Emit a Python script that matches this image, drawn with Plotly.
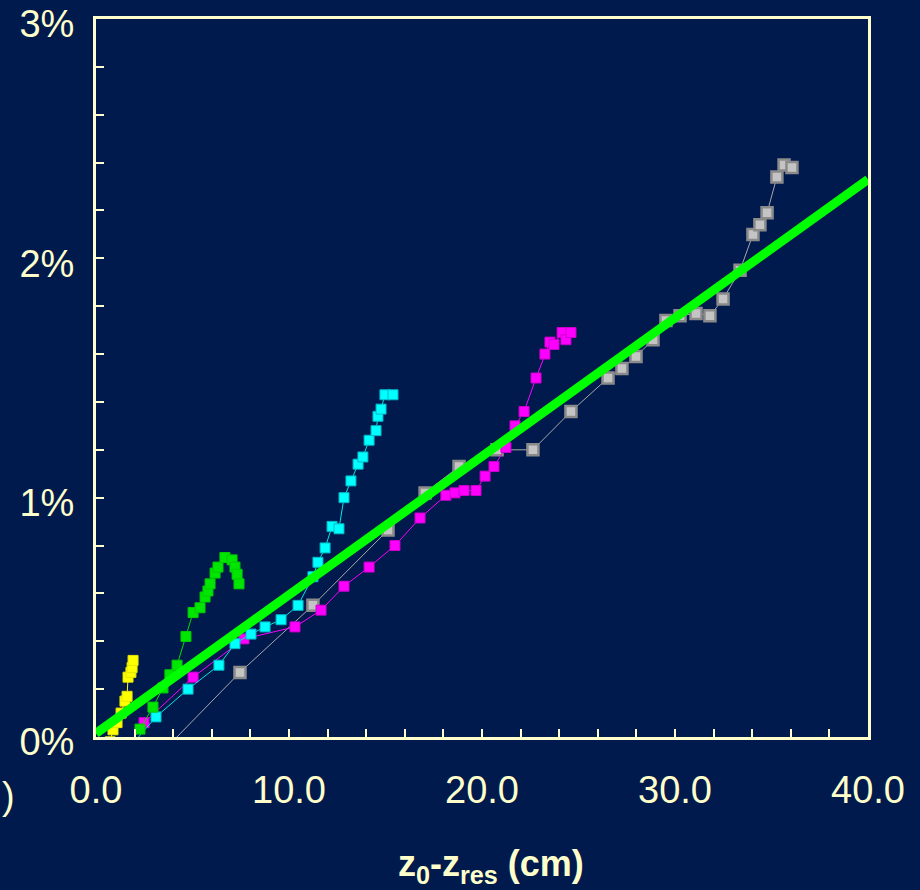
import plotly.graph_objects as go

# ---- data (x in cm, y in %) ----
yellow_x = [0.73, 0.88, 1.09, 1.30, 1.50, 1.61, 1.66, 1.81, 1.87, 1.92]
yellow_y = [-0.02, 0.03, 0.06, 0.10, 0.15, 0.17, 0.25, 0.27, 0.29, 0.32]

green_x = [2.28, 2.95, 3.47, 3.83, 4.20, 4.66, 5.03, 5.39, 5.65, 5.80, 5.91, 6.17, 6.32, 6.68, 7.05, 7.20, 7.31, 7.41]
green_y = [0.033, 0.125, 0.205, 0.26, 0.30, 0.42, 0.52, 0.54, 0.585, 0.61, 0.64, 0.685, 0.71, 0.75, 0.74, 0.71, 0.68, 0.64]

cyan_x = [1.66, 3.11, 4.77, 6.37, 7.20, 8.03, 8.76, 9.59, 10.47, 11.24, 11.50, 11.87, 12.23, 12.59, 12.85,
          13.21, 13.58, 13.83, 14.15, 14.51, 14.61, 14.77, 14.97, 15.39]
cyan_y = [-0.05, 0.084, 0.20, 0.30, 0.39, 0.43, 0.46, 0.49, 0.55, 0.67, 0.73, 0.79, 0.88, 0.87, 1.00,
          1.07, 1.14, 1.17, 1.24, 1.28, 1.34, 1.37, 1.43, 1.43]

magenta_x = [1.66, 2.49, 5.03, 7.67, 10.31, 11.66, 12.85, 14.15, 15.49, 16.79, 18.13, 18.60, 19.07, 19.69,
             20.16, 20.62, 21.24, 21.71, 22.18, 22.80, 23.26, 23.52, 23.73, 24.15, 24.35, 24.61]
magenta_y = [-0.04, 0.06, 0.25, 0.41, 0.46, 0.53, 0.63, 0.71, 0.80, 0.915, 1.01, 1.02, 1.03, 1.03,
             1.09, 1.13, 1.21, 1.30, 1.36, 1.50, 1.60, 1.65, 1.64, 1.69, 1.66, 1.69]

gray_x = [3.83, 7.46, 11.24, 15.13, 17.05, 18.81, 20.78, 22.64, 24.61, 26.53, 27.25, 27.98, 28.86, 29.53,
          30.26, 31.09, 31.81, 32.49, 33.37, 34.04, 34.40, 34.77, 35.28, 35.65, 36.06]
gray_y = [-0.03, 0.27, 0.55, 0.865, 1.02, 1.13, 1.20, 1.20, 1.36, 1.50, 1.54, 1.59, 1.66, 1.74,
          1.76, 1.77, 1.76, 1.83, 1.95, 2.10, 2.14, 2.19, 2.34, 2.39, 2.38]

fit_x = [0, 40]
fit_y = [0.015, 2.33]

x_tickvals = [0, 10, 20, 30, 40]
x_ticktext = ["0.0", "10.0", "20.0", "30.0", "40.0"]
y_tickvals = [0, 1, 2, 3]
y_ticktext = ["0%", "1%", "2%", "3%"]

BG = "#001A4D"
CREAM = "#FFFFCC"
FONT = "Liberation Sans, Arial, sans-serif"

fig = go.Figure()

def series(x, y, line_color, mcolor, mline, size=10, mlw=1):
    fig.add_trace(go.Scatter(
        x=x, y=y, mode="lines+markers",
        line=dict(color=line_color, width=1),
        marker=dict(symbol="square", size=size, color=mcolor, line=dict(color=mline, width=mlw)),
        showlegend=False, hoverinfo="x+y"))

series(gray_x, gray_y, "#A8A8A8", "#C4C4C4", "#8A8A8A", size=11, mlw=2.5)
series(magenta_x, magenta_y, "#FF00FF", "#FF00FF", "#CC00CC")
series(cyan_x, cyan_y, "#00E5E5", "#00FFFF", "#00B8C8")
series(green_x, green_y, "#00DD00", "#00E600", "#00CC00")
series(yellow_x, yellow_y, "#FFFF00", "#FFFF00", "#E6E600")

fig.add_trace(go.Scatter(x=fit_x, y=fit_y, mode="lines",
                         line=dict(color="#00FF00", width=9),
                         showlegend=False, hoverinfo="skip"))

fig.update_layout(
    width=920, height=890,
    margin=dict(l=96, r=52, t=19, b=153),
    paper_bgcolor=BG, plot_bgcolor=BG,
    font=dict(family=FONT, color=CREAM, size=38),
)

fig.update_xaxes(
    range=[0, 40], showgrid=False, zeroline=False, automargin=False,
    showline=True, linecolor=CREAM, linewidth=3, mirror=True,
    ticks="inside", ticklen=8, tickwidth=2, tickcolor=CREAM,
    tickvals=x_tickvals, ticktext=x_ticktext,
    tickfont=dict(size=38, color=CREAM, family=FONT),
    ticklabelstandoff=17, ticklabeloverflow="allow",
    minor=dict(dtick=2, ticks="inside", ticklen=8, tickwidth=2, tickcolor=CREAM, showgrid=False),
)
fig.update_yaxes(
    range=[0, 3], showgrid=False, zeroline=False, automargin=False,
    showline=True, linecolor=CREAM, linewidth=3, mirror=True,
    ticks="inside", ticklen=8, tickwidth=2, tickcolor=CREAM,
    tickvals=y_tickvals, ticktext=y_ticktext,
    tickfont=dict(size=38, color=CREAM, family=FONT),
    ticklabelstandoff=11, ticklabelshift=5, ticklabeloverflow="allow",
    minor=dict(dtick=0.2, ticks="inside", ticklen=8, tickwidth=2, tickcolor=CREAM, showgrid=False),
)

fig.add_annotation(
    text="<b>z<sub>0</sub>-z<sub>res</sub> (cm)</b>",
    xref="paper", yref="paper", x=0.512, y=-0.18,
    xanchor="center", yanchor="middle", showarrow=False,
    font=dict(size=36, color=CREAM, family=FONT),
)
fig.add_annotation(
    text=")", xref="paper", yref="paper", x=-0.124, y=-0.082,
    xanchor="left", yanchor="middle", showarrow=False,
    font=dict(size=38, color=CREAM, family=FONT),
)

fig.write_html("out.html")
